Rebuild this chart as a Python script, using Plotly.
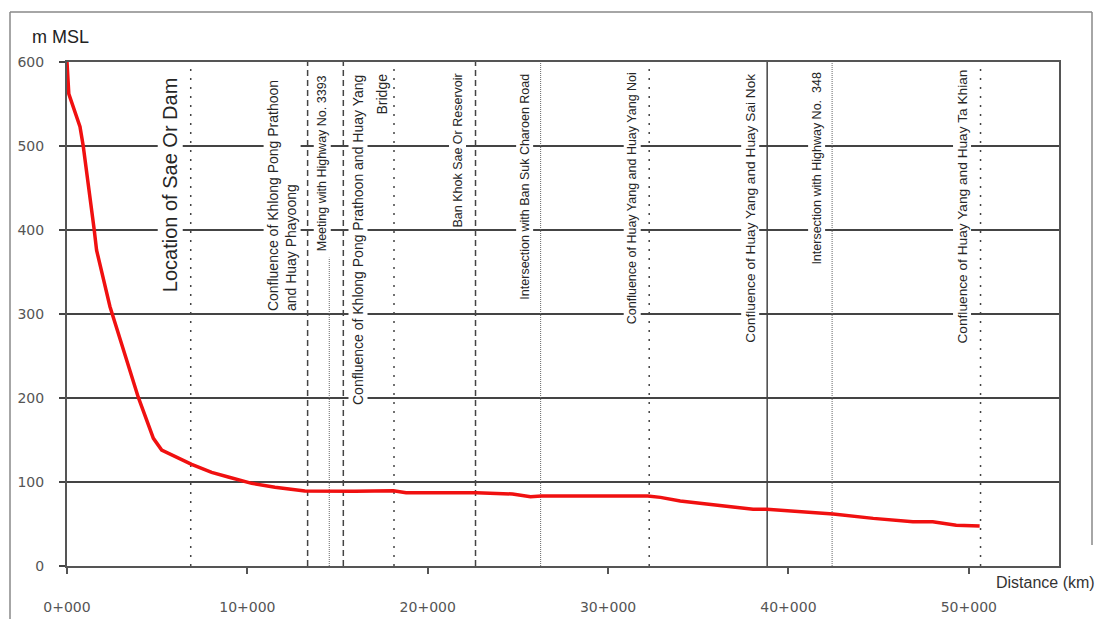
import plotly.graph_objects as go

# ---------------- data ----------------
dist_m = [0, 100, 720, 900, 1510, 1640, 2380, 3950, 4790, 5250, 6910, 8020, 8940,
          10240, 11530, 13190, 15960, 18100, 18800, 22700, 24700, 25700, 26300,
          32200, 32900, 34000, 35460, 38040, 38800, 42480, 44700, 46900, 48000,
          49300, 50600]
elev_m = [600, 562, 523, 500, 400, 376, 309, 201, 152, 138, 121, 111.5, 106,
          98.4, 93.7, 89.3, 89, 89.6, 87.3, 87.3, 85.7, 82.5, 83.3,
          83.3, 81.7, 77.4, 73.8, 67.5, 67.5, 61.9, 56.7, 52.8, 52.8,
          48.4, 47.6]

x_tickvals = [0, 10000, 20000, 30000, 40000, 50000]
x_ticktext = ["0+000", "10+000", "20+000", "30+000", "40+000", "50+000"]
y_tickvals = [0, 100, 200, 300, 400, 500, 600]

landmark_dist = [6860, 13340, 14540, 15320, 18130, 22650, 26260, 32280, 38820, 42420, 50650]
landmark_style = ["dot", "dash", "fine", "dash", "dot", "dash", "fine", "dot", "solid", "fine", "dot"]
landmark_top = [600, 600, 367, 600, 600, 600, 600, 600, 600, 600, 600]

label_text = [
    "Location of Sae Or Dam",
    "Confluence of Khlong Pong Prathoon<br>and Huay Phayoong",
    "Meeting with Highway No. 3393",
    "Confluence of Khlong Pong Prathoon and Huay Yang",
    "Bridge",
    "Ban Khok Sae Or Reservoir",
    "Intersection with Ban Suk Charoen Road",
    "Confluence of Huay Yang and Huay Yang Noi",
    "Confluence of Huay Yang and Huay Sai Nok",
    "Intersection with Highway No.  348",
    "Confluence of Huay Yang and Huay Ta Khian",
]
label_at = [0, 1, 2, 4, 4, 5, 6, 7, 8, 9, 10]

# ---------------- styling ----------------
label_xshift = [-21, -26, -7, -36, -13, -18, -16, -17, -17, -16, -18]
label_size = [20, 14, 12.5, 14, 14, 12.5, 12.5, 12.5, 13.7, 12.5, 13.7]
label_top_px = [75, 78, 73, 73, 72, 72, 72, 70, 72, 70, 68]

# the page body has an 8px margin, so the figure starts at (8, 8) in the window
OFF = 8
W, H = 1105 - OFF, 619 - OFF
PL, PT, PR, PB = 67, 62, 1059, 566          # plot area in window pixels
ML, MT = PL - OFF, PT - OFF
PW, PH = PR - PL, PB - PT
MR = W - ML - PW
MB = H - MT - PH


def px_x(px):
    return (px - PL) / PW


def px_y(py):
    return (PB - py) / PH


fig = go.Figure()
fig.add_trace(go.Scatter(x=dist_m, y=elev_m, mode="lines",
                         line=dict(color="#f01010", width=3.5),
                         hoverinfo="skip", showlegend=False))

style_map = {
    "dot": dict(color="#444", width=1.5, dash="2px,7px"),
    "dash": dict(color="#444", width=1.5, dash="6px,4px"),
    "fine": dict(color="#666", width=1, dash="1px,1px"),
    "solid": dict(color="#444", width=1.5),
}
shapes = []
for d, s, top in zip(landmark_dist, landmark_style, landmark_top):
    shapes.append(dict(type="line", xref="x", yref="y", x0=d, x1=d, y0=0, y1=top,
                       line=style_map[s], layer="between"))

# outer frame of the figure
frame = dict(color="#888", width=1.5)
shapes.append(dict(type="line", xref="paper", yref="paper", x0=px_x(10), x1=px_x(10),
                   y0=px_y(12), y1=px_y(625), line=frame))
shapes.append(dict(type="line", xref="paper", yref="paper", x0=px_x(10), x1=px_x(1092),
                   y0=px_y(12), y1=px_y(12), line=frame))
shapes.append(dict(type="line", xref="paper", yref="paper", x0=px_x(1092), x1=px_x(1092),
                   y0=px_y(12), y1=px_y(545), line=frame))

annotations = []
for t, i, xs, fs, tp in zip(label_text, label_at, label_xshift, label_size, label_top_px):
    align = "left"
    if i == 4 and t != "Bridge":
        align = "right"
    annotations.append(dict(
        text=t, x=landmark_dist[i], xref="x", y=px_y(tp), yref="paper",
        xanchor="center", yanchor="top", xshift=xs, textangle=-90,
        showarrow=False, align=align, bgcolor="white", borderpad=1,
        font=dict(family="Liberation Sans, Arial, sans-serif", size=fs, color="#262626")))

annotations.append(dict(text="m MSL", x=px_x(30), y=px_y(37), xref="paper", yref="paper",
                        xanchor="left", yanchor="middle", showarrow=False,
                        font=dict(family="Liberation Sans, Arial, sans-serif", size=18, color="#222")))
annotations.append(dict(text="Distance (km)", x=px_x(1097), y=px_y(582), xref="paper", yref="paper",
                        xanchor="right", yanchor="middle", showarrow=False,
                        font=dict(family="Liberation Sans, Arial, sans-serif", size=16, color="#333")))

fig.update_layout(
    width=W, height=H,
    margin=dict(l=ML, r=MR, t=MT, b=MB, pad=0, autoexpand=False),
    paper_bgcolor="white", plot_bgcolor="white",
    showlegend=False,
    shapes=shapes, annotations=annotations,
    xaxis=dict(range=[0, 55000], tickvals=x_tickvals, ticktext=x_ticktext,
               showgrid=False, zeroline=False, showline=True, mirror=True,
               linecolor="#555", linewidth=2, ticks="outside", ticklen=6,
               tickcolor="#555", tickwidth=1.5, ticklabelstandoff=21,
               tickfont=dict(family="DejaVu Sans", size=14, color="#555")),
    yaxis=dict(range=[0, 600], tickvals=y_tickvals,
               showgrid=True, gridcolor="#444", gridwidth=1.5, zeroline=False,
               showline=True, mirror=True, linecolor="#555", linewidth=2,
               ticks="outside", ticklen=6, tickcolor="#444", tickwidth=1.5,
               ticklabelstandoff=12,
               tickfont=dict(family="DejaVu Sans", size=14, color="#555")),
)

fig.write_html("out.html")
